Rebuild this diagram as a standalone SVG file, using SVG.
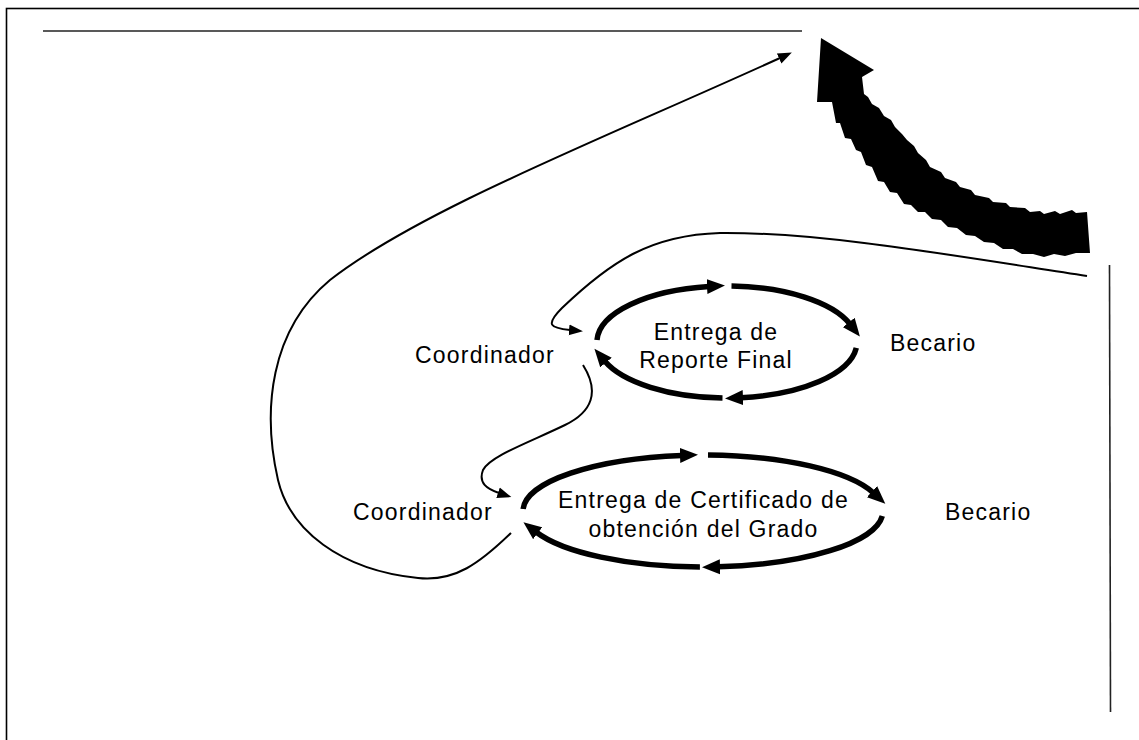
<svg xmlns="http://www.w3.org/2000/svg" width="1139" height="740" viewBox="0 0 1139 740">
<defs>
<style>
.lbl{font-family:"Liberation Sans",Arial,sans-serif;font-size:23px;letter-spacing:1.2px;fill:#000}
.cyc{fill:none;stroke:#000;stroke-width:5.5;marker-end:url(#ah)}
.con{fill:none;stroke:#000;stroke-width:2;marker-end:url(#sh)}
.rule{stroke:#222;stroke-width:1.6;fill:none}
</style>
<marker id="ah" markerUnits="userSpaceOnUse" viewBox="0 -8 20 16" refX="2" refY="0" markerWidth="20" markerHeight="16" orient="auto">
<path d="M0,-7.5 L18,0 L0,7.5 z" fill="#000"/>
</marker>
<marker id="sh" markerUnits="userSpaceOnUse" viewBox="0 -6 16 12" refX="1" refY="0" markerWidth="16" markerHeight="12" orient="auto">
<path d="M0,-5.5 L14,0 L0,5.5 z" fill="#000"/>
</marker>
</defs>
<rect x="6.5" y="8.5" width="1140" height="740" fill="#fff" stroke="#000" stroke-width="1.6"/>
<g id="decor">
<line class="rule" x1="43" y1="31" x2="802" y2="31"/>
<line class="rule" x1="1109.5" y1="265" x2="1110.5" y2="712"/>
<path id="bigArrow" fill="#000" d="M832,102 L836,123 L840,123 L845,138 L851,139 L856,150 L861,152 L866,165 L872,167 L878,181 L884,182 L890,192 L897,193 L904,204 L911,205 L918,212 L925,212 L932,219 L941,220 L948,227 L957,228 L966,235 L975,236 L984,242 L994,243 L1003,249 L1013,249 L1022,254 L1033,254 L1044,257 L1054,254 L1065,256 L1076,253 L1090,253 L1087,212 L1076,213 L1072,210 L1060,214 L1055,211 L1044,214 L1040,211 L1030,212 L1025,208 L1010,207 L1006,203 L993,202 L989,198 L975,195 L971,190 L960,187 L956,182 L945,178 L941,172 L930,167 L926,160 L918,153 L914,146 L907,140 L902,134 L895,127 L891,120 L884,116 L879,108 L872,104 L868,97 L864,94 L862,77 L874,70 L821,38 L817,102 Z"/>
</g>
<g id="node-reporte">
<path class="cyc" d="M597,340 A130,56 0 0 1 709,286.5"/>
<path class="cyc" d="M731.5,286 A130,56 0 0 1 850,324"/>
<path class="cyc" d="M856.3,347.9 A130,56 0 0 1 741,397.7"/>
<path class="cyc" d="M722.5,398 A130,56 0 0 1 604.7,361"/>
<text class="lbl" x="716" y="340" text-anchor="middle">Entrega de</text>
<text class="lbl" x="716" y="368" text-anchor="middle">Reporte Final</text>
</g>
<g id="node-certificado">
<path class="cyc" d="M523.1,509 A180,56 0 0 1 682,455.4"/>
<path class="cyc" d="M708,455 A180,56 0 0 1 873.5,493"/>
<path class="cyc" d="M882.3,515.9 A180,56 0 0 1 718,566.8"/>
<path class="cyc" d="M699.9,567 A180,56 0 0 1 536.1,532"/>
<text class="lbl" x="703.5" y="508" text-anchor="middle">Entrega de Certificado de</text>
<text class="lbl" x="703.5" y="537" text-anchor="middle">obtención del Grado</text>
</g>
<g id="node-coord1"><text class="lbl" x="415" y="363">Coordinador</text></g>
<g id="node-becario1"><text class="lbl" x="890" y="351">Becario</text></g>
<g id="node-coord2"><text class="lbl" x="353" y="520">Coordinador</text></g>
<g id="node-becario2"><text class="lbl" x="945" y="520">Becario</text></g>
<g id="connectors">
<path class="con" d="M511,533 C480,563 455,582 418,578 C340,570 290,530 278,480 C262,410 270,330 330,280 C420,210 600,140 780,58"/>
<path class="con" d="M1087,276 C950,255 820,232 720,233 C650,235 610,262 562,308 C545,325 550,328 570,330"/>
<path class="con" d="M583,365 C600,392 592,412 565,425 C530,442 490,456 483,470 C478,483 487,489 499,493"/>
</g>
</svg>
